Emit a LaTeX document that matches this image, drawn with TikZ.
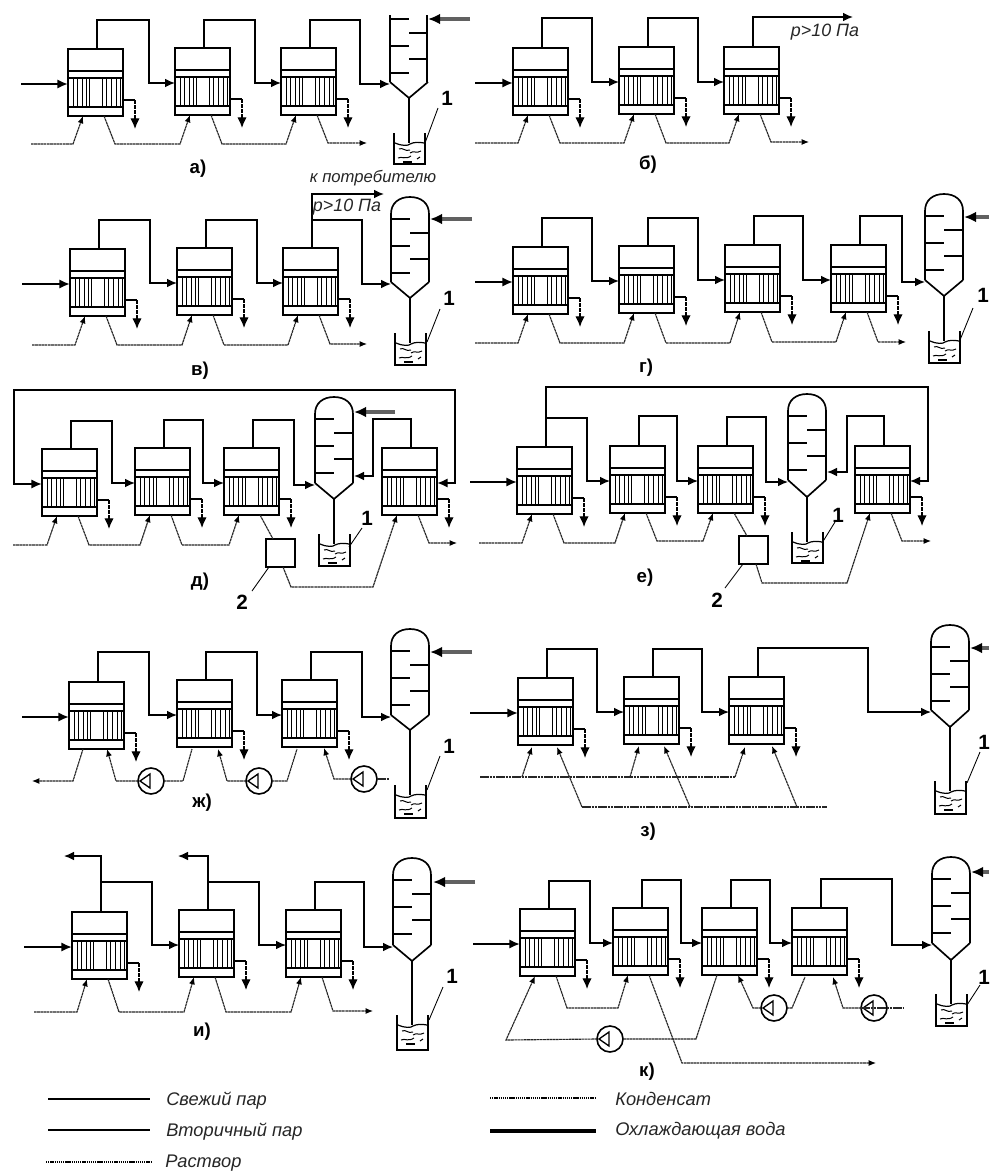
\documentclass[tikz,border=0pt]{standalone}
\usepackage{fontspec}
\setmainfont{Liberation Sans}
\usetikzlibrary{arrows.meta,positioning}
\def\pxu{0.75pt}
\tikzset{
 evapbox/.style={draw,line width=1.3pt,minimum width=41.25pt,minimum height=50.25pt,inner sep=0pt,outer sep=0pt,anchor=north west},
 inner/.style={line width=0.9pt},
 tube/.style={line width=0.65pt},
 steam/.style={line width=0.95pt,line join=miter},
 stip/.style={steam,-{Latex[length=7.5pt,width=6.5pt]}},
 fresh/.style={line width=1.7pt,-{Latex[length=8pt,width=7pt]}},
 freshb/.style={line width=1.7pt,{Latex[length=8pt,width=7pt]}-{Latex[length=8pt,width=7pt]}},
 sol/.style={line width=0.85pt,black!85,dash pattern=on 2pt off 0.4pt},
 soltip/.style={sol,-{Latex[length=5.5pt,width=4.5pt,black]}},
 drop/.style={line width=0.95pt,dash pattern=on 3pt off 0.8pt,-{Latex[length=8pt,width=7pt,black]}},
 wall/.style={line width=1.25pt,line join=miter},
 water/.style={line width=2.3pt,black!62,-{Latex[length=9pt,width=8pt,black]}},
 baffle/.style={line width=0.9pt},
 wave/.style={line width=0.75pt},
 leader/.style={line width=0.65pt},
 pumpc/.style={circle,draw,line width=1.2pt,minimum size=19.5pt,inner sep=0pt,outer sep=0pt},
 sq/.style={draw,line width=1.25pt,minimum width=21.5pt,minimum height=21pt,inner sep=0pt,outer sep=0pt,anchor=north west},
 lab/.style={font=\fontsize{14pt}{15pt}\selectfont\bfseries,inner sep=0pt},
 num/.style={font=\fontsize{15.5pt}{16pt}\selectfont\bfseries,inner sep=0pt},
 ital/.style={font=\fontsize{12.5pt}{14pt}\selectfont\itshape,inner sep=0pt,black!85},
 italp/.style={ital,font=\fontsize{13.4pt}{14pt}\selectfont\itshape},
 legt/.style={ital,font=\fontsize{13.7pt}{15pt}\selectfont\itshape,anchor=west},
}
% evaporator: name, left, top, solution line y
\newcommand{\evap}[4]{%
 \node[evapbox] (#1) at (#2,#3) {};
 \draw[inner] (#2,#3+22) -- (#2+55,#3+22);
 \draw[inner] (#2,#3+29) -- (#2+55,#3+29);
 \draw[inner] (#2,#3+58) -- (#2+55,#3+58);
 \foreach \tb in {5,9,14,18,21,34,38,43,48,52}{\draw[tube] (#2+\tb,#3+29) -- (#2+\tb,#3+58);}
 \coordinate (#1-t) at (#2+29,#3);
 \coordinate (#1-i) at (#2,#3+35);
 \coordinate (#1-ir) at (#2+55,#3+35);
 \coordinate (#1-a) at (#2+15,#3+67);
 \coordinate (#1-b) at (#2+36,#3+67);
 \coordinate (#1-ai) at (#2+5,#4);
 \coordinate (#1-bo) at (#2+47,#4);
 \coordinate (#1-c) at (#2+55,#3+51);
 \coordinate (#1-d) at (#2+67,#3+51);
 \coordinate (#1-e) at (#2+67,#3+80);
 \draw[steam] (#1-c) -- (#1-d);
 \draw[drop] (#1-d) -- (#1-e);
}
% fresh steam in: start x, box
\newcommand{\frs}[2]{\draw[fresh] (#1,0 |- #2-i) -- (#2-i);}
% steam: from box top, up to ytop, across to xv, down and into target
\newcommand{\stm}[4]{\draw[stip] (#1-t) |- (#3,#2) |- (#4);}
\newcommand{\soln}[2]{\draw[soltip] (#1-b) -- (#1-bo) -- (#2-ai |- #1-bo) -- (#2-a);}
\newcommand{\solin}[2]{\draw[soltip] (#1,0 |- #2-ai) -- (#2-ai) -- (#2-a);}
\newcommand{\solout}[2]{\draw[soltip] (#1-b) -- (#1-bo) -- (#2,0 |- #1-bo);}
% condenser lower part: name, L, Tb (baffle origin), C, A, VT, VB
\newcommand{\condbody}[7]{%
 \coordinate (#1-i) at (#2,#4+2);
 \coordinate (#1-apex) at (#2+19,#5);
 \coordinate (#1-R) at (#2+38,#3);
 \draw[wall] (#2,#4) -- (#1-apex) -- (#2+38,#4);
 \foreach \by in {22,49,76}{\draw[baffle] (#2,#3+\by) -- (#2+19,#3+\by);}
 \foreach \by in {36,62}{\draw[baffle] (#2+19,#3+\by) -- (#2+38,#3+\by);}
 \draw[wall] (#2+4,#6) -- (#2+4,#7) -- (#2+35,#7) -- (#2+35,#6);
 \draw[wall] (#1-apex) -- (#2+19,#6+10);
 \draw[baffle] (#2+5,#6+10) .. controls (#2+12,#6+13) and (#2+18,#6+13) .. (#2+20,#6+11) .. controls (#2+24,#6+9) and (#2+29,#6+9) .. (#2+34,#6+10);
 \draw[wave] (#2+9,#6+16) .. controls (#2+13,#6+14) and (#2+15,#6+19) .. (#2+20,#6+17);
 \draw[wave] (#2+20,#6+20) .. controls (#2+24,#6+17) and (#2+26,#6+21) .. (#2+31,#6+18);
 \draw[wave] (#2+8,#6+25) .. controls (#2+12,#6+23) and (#2+15,#6+27) .. (#2+21,#6+23);
 \draw[line width=1.1pt] (#2+13,#6+29) -- (#2+22,#6+29);
 \draw[wave] (#2+27,#6+26) -- (#2+30,#6+24);
}
\newcommand{\conddome}[7]{%
 \condbody{#1}{#2}{#3}{#4}{#5}{#6}{#7}
 \draw[wall] (#2,#4) -- (#2,#3+17) .. controls (#2,#3+6) and (#2+8,#3) .. (#2+19,#3) .. controls (#2+30,#3) and (#2+38,#3+6) .. (#2+38,#3+17) -- (#2+38,#4);
}
\newcommand{\pump}[3]{%
 \node[pumpc] (#1) at (#2,#3) {};
 \coordinate (#1-tip) at (#2-11,#3);
 \draw[line width=1pt] (#1-tip) -- (#2-1,#3-7) -- (#2-1,#3+7) -- cycle;
}
\begin{document}
\begin{tikzpicture}[x=\pxu,y=-\pxu]
\useasboundingbox (0,0) rectangle (989,1171);
\fill[white] (0,0) rectangle (989,1171);

%%% а)
\evap{A1}{68}{49}{144}\evap{A2}{175}{48}{144}\evap{A3}{281}{48}{143}
\frs{21}{A1}
\condbody{AC}{390}{-3}{82}{98}{133}{164}
\draw[wall] (390,15) -- (390,82);\draw[wall] (427,15) -- (427,82);
\stm{A1}{20}{149}{A2-i}\stm{A2}{20}{255}{A3-i}\stm{A3}{20}{360}{AC-i}
\solin{31}{A1}\soln{A1}{A2}\soln{A2}{A3}\solout{A3}{367}
\draw[water] (470,19) -- (428,19);
\node[num] (al1) at (447,98) {1};\draw[leader] (438,108) -- (425,143);
\node[lab] (al) at (198,169) {а)};

%%% б)
\evap{B1}{513}{48}{143}\evap{B2}{619}{47}{143}\evap{B3}{724}{47}{142}
\frs{475}{B1}
\stm{B1}{18}{592}{B2-i}\stm{B2}{18}{698}{B3-i}
\draw[stip] (B3-t) |- (853,17);
\solin{475}{B1}\soln{B1}{B2}\soln{B2}{B3}\solout{B3}{809}
\node[italp] (bp) at (825,32) {p>10 Па};
\node[lab] (bl) at (648,165) {б)};

%%% в)
\evap{V1}{70}{249}{345}\evap{V2}{177}{248}{345}\evap{V3}{283}{248}{344}
\frs{22}{V1}
\conddome{VC}{391}{197}{282}{298}{333}{365}
\stm{V1}{220}{150}{V2-i}\stm{V2}{220}{257}{V3-i}
\draw[stip] (V3-t) |- (362,220) |- (VC-i);
\draw[stip] (V3-t) |- (384,194);
\solin{32}{V1}\soln{V1}{V2}\soln{V2}{V3}\solout{V3}{367}
\draw[water] (472,219) -- (430,219);
\node[ital] (vk) at (373,178) {к потребителю};
\node[italp] (vp) at (347,207) {p>10 Па};
\node[num] (vn) at (449,298) {1};\draw[leader] (440,309) -- (427,342);
\node[lab] (vl) at (200,371) {в)};

%%% г)
\evap{G1}{513}{247}{343}\evap{G2}{619}{246}{343}\evap{G3}{725}{245}{342}\evap{G4}{831}{245}{342}
\frs{475}{G1}
\conddome{GC}{925}{194}{280}{296}{331}{363}
\stm{G1}{218}{592}{G2-i}\stm{G2}{218}{698}{G3-i}\stm{G3}{216}{803}{G4-i}\stm{G4}{216}{902}{GC-i}
\solin{475}{G1}\soln{G1}{G2}\soln{G2}{G3}\soln{G3}{G4}\solout{G4}{906}
\draw[water] (989,217) -- (964,217);
\node[num] (gn) at (983,295) {1};\draw[leader] (973,308) -- (960,340);
\node[lab] (gl) at (646,368) {г)};

%%% д)
\evap{D1}{42}{449}{545}\evap{D2}{135}{448}{545}\evap{D3}{224}{448}{544}\evap{D4}{382}{448}{543}
\conddome{DC}{315}{397}{483}{499}{534}{566}
\draw[freshb] (D1-i) -- (14,0 |- D1-i) |- (455,390) |- (D4-ir);
\stm{D1}{421}{112}{D2-i}\stm{D2}{420}{203}{D3-i}\stm{D3}{420}{294}{DC-i}
\draw[stip] (D4-t) |- (373,419) |- (354,476);
\draw[water] (395,412) -- (354,412);
\solin{13}{D1}\soln{D1}{D2}\soln{D2}{D3}\solout{D4}{457}
\node[sq] (Dq) at (266,539) {};
\draw[sol] (D3-b) -- (Dq.north west -| 273,0);
\draw[soltip] (Dq.south west -| 283,0) -- (291,587) -- (373,587) -- (D4-a);
\node[num] (dn) at (367,518) {1};\draw[leader] (362,528) -- (349,547);
\node[num] (dq) at (242,602) {2};\draw[leader] (252,591) -- (Dq.south west -| 269,0);
\node[lab] (dl) at (200,582) {д)};

%%% е)
\evap{E1}{517}{447}{543}\evap{E2}{610}{446}{541}\evap{E3}{698}{446}{541}\evap{E4}{855}{446}{541}
\frs{470}{E1}
\conddome{EC}{788}{394}{480}{497}{532}{563}
\draw[stip] (E1-t) |- (587,418) |- (E2-i);
\draw[stip] (E1-t) |- (928,387) |- (E4-ir);
\stm{E2}{416}{677}{E3-i}\stm{E3}{417}{766}{EC-i}
\draw[stip] (E4-t) |- (847,416) |- (827,472);
\solin{479}{E1}\soln{E1}{E2}\soln{E2}{E3}\solout{E4}{931}
\node[sq] (Eq) at (739,536) {};
\draw[sol] (E3-b) -- (Eq.north west -| 747,0);
\draw[soltip] (Eq.south west -| 756,0) -- (762,583) -- (847,583) -- (E4-a);
\node[num] (en) at (838,515) {1};\draw[leader] (835,522) -- (822,543);
\node[num] (eq) at (717,600) {2};\draw[leader] (725,588) -- (Eq.south west -| 743,0);
\node[lab] (el) at (645,578) {е)};

%%% ж)
\evap{J1}{69}{682}{781}\evap{J2}{177}{680}{781}\evap{J3}{282}{680}{780}
\frs{22}{J1}
\conddome{JC}{391}{629}{715}{730}{785}{818}
\stm{J1}{652}{149}{J2-i}\stm{J2}{652}{257}{J3-i}\stm{J3}{652}{362}{JC-i}
\draw[water] (472,652) -- (430,652);
\pump{JP1}{151}{781}\pump{JP2}{259}{781}\pump{JP3}{364}{779}
\draw[soltip] (83,749) -- (73,781) -- (32,781);
\draw[soltip] (JP1.west) -- (116,781) -- (107,749);
\draw[sol] (JP1.east) -- (183,781) -- (192,749);
\draw[soltip] (JP2.west) -- (227,781) -- (218,749);
\draw[sol] (JP2.east) -- (287,781) -- (297,749);
\draw[soltip] (JP3.west) -- (334,779) -- (324,748);
\draw[sol] (JP3.east) -- (389,779);
\node[num] (jn) at (449,746) {1};\draw[leader] (440,756) -- (427,790);
\node[lab] (jl) at (202,803) {ж)};

%%% з)
\evap{Z1}{518}{678}{777}\evap{Z2}{624}{677}{777}\evap{Z3}{729}{677}{777}
\frs{470}{Z1}
\conddome{ZC}{931}{625}{710}{727}{781}{814}
\stm{Z1}{649}{597}{Z2-i}\stm{Z2}{649}{702}{Z3-i}\stm{Z3}{648}{868}{ZC-i}
\draw[water] (989,648) -- (970,648);
\draw[sol] (480,777) -- (735,777);
\draw[soltip] (735,777) -- (745,747);
\draw[soltip] (522,777) -- (532,747);
\draw[soltip] (630,777) -- (639,746);
\draw[sol] (582,807) -- (827,807);
\draw[soltip] (582,807) -- (557,747);
\draw[soltip] (690,807) -- (664,746);
\draw[soltip] (797,807) -- (772,746);
\node[num] (zn) at (984,742) {1};\draw[leader] (980,752) -- (967,783);
\node[lab] (zl) at (648,832) {з)};

%%% и)
\evap{I1}{72}{912}{1012}\evap{I2}{179}{910}{1012}\evap{I3}{286}{910}{1011}
\frs{24}{I1}
\conddome{IC}{393}{858}{945}{961}{1015}{1050}
\draw[stip] (I1-t) |- (152,882) |- (I2-i);
\draw[stip] (I2-t) |- (259,882) |- (I3-i);
\stm{I3}{882}{364}{IC-i}
\draw[stip] (I1-t) |- (64,856);
\draw[stip] (I2-t) |- (178,856);
\draw[water] (475,882) -- (433,882);
\solin{34}{I1}\soln{I1}{I2}\soln{I2}{I3}\solout{I3}{373}
\node[num] (in) at (452,976) {1};\draw[leader] (443,987) -- (429,1020);
\node[lab] (il) at (202,1032) {и)};

%%% к)
\evap{K1}{520}{909}{1008}\evap{K2}{613}{908}{1008}\evap{K3}{702}{908}{1008}\evap{K4}{792}{908}{1008}
\frs{473}{K1}
\conddome{KC}{932}{857}{943}{960}{994}{1026}
\stm{K1}{881}{590}{K2-i}\stm{K2}{880}{681}{K3-i}\stm{K3}{880}{770}{K4-i}\stm{K4}{879}{892}{KC-i}
\draw[water] (989,872) -- (971,872);
\pump{KP1}{610}{1039}\pump{KP2}{774}{1008}\pump{KP3}{874}{1008}
\draw[soltip] (KP1.west) -- (506,1040) -- (K1-a);
\draw[sol] (K3-a -| 717,0) -- (696,1039) -- (KP1.east);
\soln{K1}{K2}
\draw[soltip] (K2-b) -- (682,1063) -- (876,1063);
\draw[soltip] (KP2.west) -- (753,1008) -- (K3-b);
\draw[sol] (KP2.east) -- (792,1008) -- (805,977);
\draw[soltip] (KP3.west) -- (843,1008) -- (833,977);
\draw[sol] (KP3.west) -- (903,1008);
\node[num] (kn) at (984,977) {1};\draw[leader] (980,985) -- (967,1005);
\node[lab] (kl) at (647,1072) {к)};

%%% legend
\coordinate (l1a) at (48,1099);\coordinate (l1b) at (150,1099);
\coordinate (l2a) at (48,1130);\coordinate (l2b) at (150,1130);
\coordinate (l3a) at (46,1162);\coordinate (l3b) at (152,1162);
\coordinate (l4a) at (490,1098);\coordinate (l4b) at (596,1098);
\coordinate (l5a) at (490,1131);\coordinate (l5b) at (596,1131);
\draw[line width=1.8pt] (l1a) -- (l1b);
\draw[line width=0.95pt] (l2a) -- (l2b);
\draw[line width=1pt,dash pattern=on 1pt off 0.6pt] (l3a) -- (l3b);
\draw[line width=1pt,dash pattern=on 1pt off 0.6pt] (l4a) -- (l4b);
\draw[line width=2.6pt] (l5a) -- (l5b);
\node[legt] (t1) at (166,1101) {Свежий пар};
\node[legt] (t2) at (166,1132) {Вторичный пар};
\node[legt] (t3) at (165,1163) {Раствор};
\node[legt] (t4) at (615,1099) {Конденсат};
\node[legt] (t5) at (615,1131) {Охлаждающая вода};
\end{tikzpicture}
\end{document}
